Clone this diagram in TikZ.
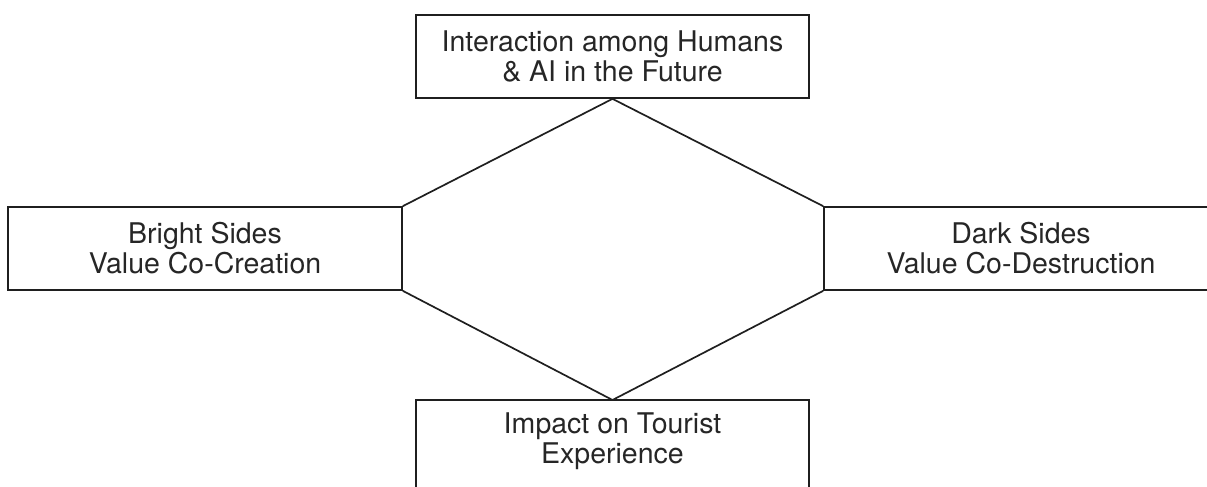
\documentclass[tikz,border=0pt]{standalone}
\usepackage{fontspec}
\setmainfont{TeX Gyre Heros}
\begin{document}
\begin{tikzpicture}[x=1pt,y=1pt,
  ln/.style={draw=black!88, line width=1.7pt},
  box/.style={ln, rectangle, inner sep=0pt, minimum height=83pt, align=center,
    font=\fontsize{28.5}{30}\selectfont, text=black!85},
  txt/.style={inner sep=0pt, align=center, font=\fontsize{28.5}{30}\selectfont, text=black!85}]
\useasboundingbox (0,0) rectangle (1207,487);
\node[box, minimum width=393pt] (top) at (612.5,430.5) {Interaction among Humans\\\& AI in the Future};
\node[box, minimum width=394pt] (left) at (205,238.5) {Bright Sides\\Value Co-Creation};
\node[box, minimum width=394pt] (right) at (1021,238.5) {Dark Sides\\Value Co-Destruction};
\node[txt] (bot) at (612.5,46) {Impact on Tourist\\Experience};
\coordinate (bl) at (416,-20);
\coordinate (br) at (809,-20);
\coordinate (apex) at (612.5,87);
\draw[ln] (bl) |- (apex) -| (br);
\draw[ln] (left.north east) -- (top.south) -- (right.north west);
\draw[ln] (left.south east) -- (apex) -- (right.south west);
\end{tikzpicture}
\end{document}
